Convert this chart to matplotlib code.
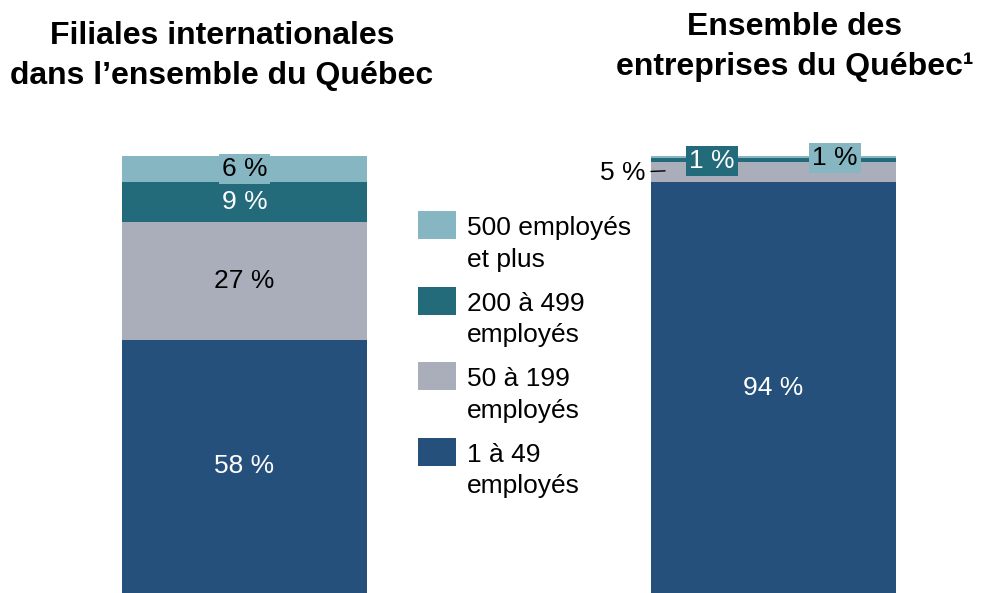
import matplotlib.pyplot as plt
from matplotlib.patches import Rectangle

plt.rcParams['font.family'] = ['Liberation Sans', 'DejaVu Sans']

# data
groupes = ["Filiales internationales\ndans l\u2019ensemble du Qu\u00e9bec",
           "Ensemble des\nentreprises du Qu\u00e9bec\u00b9"]
categories = ["1 \u00e0 49\nemploy\u00e9s", "50 \u00e0 199\nemploy\u00e9s",
              "200 \u00e0 499\nemploy\u00e9s", "500 employ\u00e9s\net plus"]
filiales = [58, 27, 9, 6]
ensemble = [94.0, 4.6, 0.9, 0.5]
etiquettes_filiales = ["58 %", "27 %", "9 %", "6 %"]
etiquettes_ensemble = ["94 %", "5 %", "1 %", "1 %"]

couleurs = ["#26507C", "#A9AEBA", "#236B7B", "#86B6C2"]
couleurs_texte = ["white", "black", "white", "black"]

fig = plt.figure(figsize=(9.82, 5.93), dpi=100)
ax = fig.add_axes([0, 0, 1, (593 - 156) / 593])
ax.set_xlim(-244.5 / 529, 1 + (982 - 773.5) / 529)
ax.set_ylim(0, 100)
ax.axis('off')

larg = 245 / 529
bas_f = 0
bas_e = 0
for i in range(4):
    ax.bar(0, filiales[i], bottom=bas_f, width=larg, color=couleurs[i], linewidth=0)
    ax.bar(1, ensemble[i], bottom=bas_e, width=larg, color=couleurs[i], linewidth=0)
    bas_f += filiales[i]
    bas_e += ensemble[i]

# labels, left bar
fs = 19
bas = 0
for i, v in enumerate(filiales):
    y = bas + v / 2
    bbox = None
    if i == 3:
        bbox = dict(boxstyle='square,pad=0.12', fc=couleurs[3], ec='none')
    ax.text(0, y, etiquettes_filiales[i], ha='center', va='center', fontsize=fs,
            color=couleurs_texte[i], bbox=bbox)
    bas += v

# labels, right bar
ax.text(1, ensemble[0] / 2, etiquettes_ensemble[0], ha='center', va='center',
        fontsize=fs, color='white')
ax.annotate(etiquettes_ensemble[1], xy=(0.795, ensemble[0] + 2.6), xytext=(0.758, 96.2),
            ha='right', va='center', fontsize=fs, color='black',
            arrowprops=dict(arrowstyle='-', color='black', lw=1, shrinkA=2, shrinkB=0))
ax.text(0.884, 98.9, etiquettes_ensemble[2], ha='center', va='center', fontsize=fs,
        color='white', bbox=dict(boxstyle='square,pad=0.12', fc=couleurs[2], ec='none'))
ax.text(1.116, 99.5, etiquettes_ensemble[3], ha='center', va='center', fontsize=fs,
        color='black', bbox=dict(boxstyle='square,pad=0.12', fc=couleurs[3], ec='none'))

# titles
fig.text(222 / 982, 1 - 56 / 593, groupes[0], ha='center', va='center',
         fontsize=23, fontweight='bold', linespacing=1.42)
fig.text(795 / 982, 1 - 47 / 593, groupes[1], ha='center', va='center',
         fontsize=23, fontweight='bold', linespacing=1.42)

# legend
h_ax = 593 - 156
def py(p):
    return (593 - p) / h_ax * 100
for k, i in enumerate([3, 2, 1, 0]):
    top = 211 + k * 75.5
    ax.add_patch(Rectangle(((418 - 244.5) / 529, py(top + 28)), 38 / 529,
                           28 / h_ax * 100, color=couleurs[i], lw=0))
    ax.text((467 - 244.5) / 529, py(top + 5), categories[i], ha='left', va='top',
            fontsize=fs, linespacing=1.42)

fig.savefig("out.png", dpi=100)
